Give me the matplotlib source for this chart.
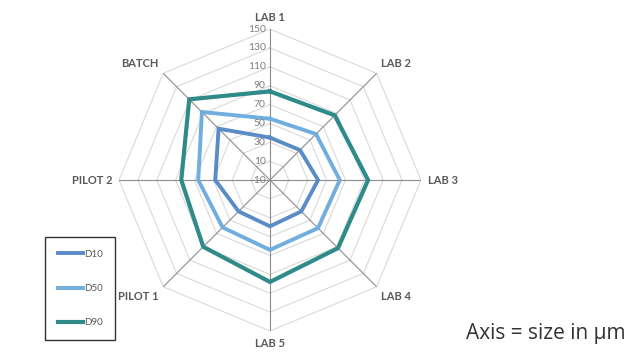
import numpy as np
import matplotlib
matplotlib.use("Agg")
import matplotlib.pyplot as plt
from matplotlib.transforms import offset_copy

categories = ["LAB 1", "LAB 2", "LAB 3", "LAB 4", "LAB 5", "PILOT 1", "PILOT 2", "BATCH"]
d10 = [35, 35, 41, 37, 39, 37, 48, 67]
d50 = [55, 59, 64, 62, 64, 61, 66, 92]
d90 = [84, 87, 94, 92, 98, 90, 84, 111]
series_names = ["D10", "D50", "D90"]
rticks = [-10, 10, 30, 50, 70, 90, 110, 130, 150]

colors = ["#5b8cc8", "#71aee0", "#2f8b8a"]
widths = [2.8, 2.8, 3.0]

plt.rcParams['font.family'] = ['Lato', 'DejaVu Sans']

fig = plt.figure(figsize=(6.43, 3.62), dpi=100)
ax = fig.add_axes([0.185, 0.0856, 0.4697, 0.834], projection='polar')
ax.set_theta_zero_location('N')
ax.set_theta_direction(-1)
ax.set_ylim(rticks[0], rticks[-1])
ax.grid(False)
ax.spines['polar'].set_visible(False)
ax.set_xticks([])
ax.set_yticks([])
ax.patch.set_alpha(0)

n = len(categories)
theta = np.arange(n) * 2 * np.pi / n
closed = np.append(theta, theta[0])

# octagon rings
for r in rticks[1:]:
    ax.plot(closed, [r] * (n + 1), color='#d9d9d9', lw=0.8, zorder=1)
# spokes
for t in theta:
    ax.plot([t, t], [rticks[0], rticks[-1]], color='#8c8c8c', lw=0.8, zorder=2)

for vals, name, c, w in zip([d10, d50, d90], series_names, colors, widths):
    ax.plot(closed, vals + [vals[0]], color=c, lw=w, label=name, zorder=3,
            solid_joinstyle='miter')

# radial tick labels
tr = offset_copy(ax.transData, fig=fig, x=-3, y=0, units='points')
for r in rticks:
    ax.text(0, r, str(r), transform=tr, ha='right', va='center',
            fontsize=7.5, color='#7f7f7f', zorder=4)

# category labels
lab_r = 157
align = [('center', 'bottom'), ('left', 'bottom'), ('left', 'center'), ('left', 'top'),
         ('center', 'top'), ('right', 'top'), ('right', 'center'), ('right', 'bottom')]
for t, lab, (ha, va) in zip(theta, categories, align):
    ax.text(t, lab_r, lab, ha=ha, va=va, fontsize=8, fontweight='bold',
            color='#595959')

handles, labels = ax.get_legend_handles_labels()
leg = fig.legend(handles, labels, loc='upper left',
                 bbox_to_anchor=(45 / 643, 1 - 237 / 362),
                 frameon=True, fancybox=False, fontsize=7,
                 labelspacing=2.6, borderpad=1.3, handlelength=2.6,
                 handletextpad=0.1, borderaxespad=0)
leg.get_frame().set_edgecolor('black')
leg.get_frame().set_linewidth(1.0)
for txt in leg.get_texts():
    txt.set_color('#595959')

fig.text(626 / 643, 1 - 333 / 362, "Axis = size in µm", ha='right', va='center',
         fontsize=15, color='#333333', family=['Open Sans', 'DejaVu Sans'])

fig.savefig("out.png", dpi=100)
